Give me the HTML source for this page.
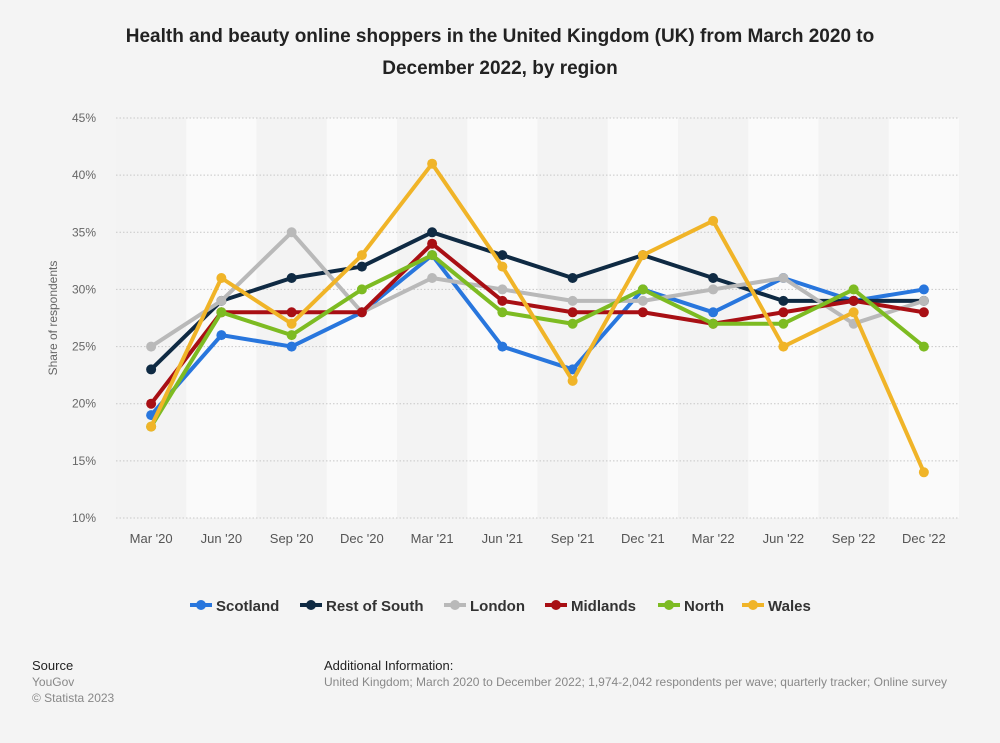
<!DOCTYPE html>
<html><head><meta charset="utf-8"><style>
body{margin:0;background:#f4f4f4;font-family:"Liberation Sans",Arial,sans-serif;}
svg{display:block}
</style></head><body>
<svg id="chart" width="1000" height="743">
<rect width="1000" height="743" fill="#f4f4f4"/>
<text x="500" y="42" text-anchor="middle" font-size="19" font-weight="bold" fill="#222">Health and beauty online shoppers in the United Kingdom (UK) from March 2020 to</text>
<text x="500" y="74" text-anchor="middle" font-size="19" font-weight="bold" fill="#222">December 2022, by region</text>
<g id="bands"></g><g id="grid"></g><g id="series"></g><g id="axes"></g><g id="legend"></g>
<text transform="translate(57,318) rotate(-90)" text-anchor="middle" font-size="12" fill="#666">Share of respondents</text>
<text x="32" y="670" font-size="13" fill="#222">Source</text>
<text x="32" y="686" font-size="12" fill="#888">YouGov</text>
<text x="32" y="702" font-size="12" fill="#888">© Statista 2023</text>
<text x="324" y="670" font-size="13" fill="#222">Additional Information:</text>
<text x="324" y="686" font-size="12" fill="#888">United Kingdom; March 2020 to December 2022; 1,974-2,042 respondents per wave; quarterly tracker; Online survey</text>
</svg>
<script>
const categories=["Mar '20","Jun '20","Sep '20","Dec '20","Mar '21","Jun '21","Sep '21","Dec '21","Mar '22","Jun '22","Sep '22","Dec '22"];
const yTicks=[10,15,20,25,30,35,40,45];
const seriesNames=["Scotland","Rest of South","London","Midlands","North","Wales"];
const seriesColors=["#2876dd","#0f2a43","#b9b9b9","#a80f14","#7dbb22","#f0b428"];
const scotland=[19,26,25,28,33,25,23,30,28,31,29,30];
const restOfSouth=[23,29,31,32,35,33,31,33,31,29,29,29];
const london=[25,29,35,28,31,30,29,29,30,31,27,29];
const midlands=[20,28,28,28,34,29,28,28,27,28,29,28];
const north=[18,28,26,30,33,28,27,30,27,27,30,25];
const wales=[18,31,27,33,41,32,22,33,36,25,28,14];
const seriesValues=[scotland,restOfSouth,london,midlands,north,wales];

const NS="http://www.w3.org/2000/svg";
const L=116,R=959,T=118,B=518;
const bw=(R-L)/categories.length;
const x=i=>L+bw*(i+0.5);
const y=v=>B-(v-10)/35*(B-T);
function mk(tag,attrs,parent){const e=document.createElementNS(NS,tag);for(const k in attrs)e.setAttribute(k,attrs[k]);document.getElementById(parent).appendChild(e);return e;}

categories.forEach((c,i)=>{
  const r=mk('rect',{x:L+bw*i,y:T,width:bw,height:B-T,fill:i%2?'#fafafa':'#f3f3f3'},'bands');
  
  
  const t=mk('text',{x:x(i),y:543,'text-anchor':'middle','font-size':13,fill:'#555'},'axes');
  t.textContent=c;
  
  
});
yTicks.forEach(v=>{
  const l=mk('line',{x1:L,x2:R,y1:y(v),y2:y(v),stroke:'#c8c8c8','stroke-dasharray':'1.5,2'},'grid');
  
  
  const t=mk('text',{x:96,y:y(v)+4,'text-anchor':'end','font-size':12,fill:'#666'},'axes');
  t.textContent=v+'%';
  
  
});
seriesValues.forEach((vals,s)=>{
  const g=mk('g',{},'series');
  
  
  const p=document.createElementNS(NS,'polyline');
  p.setAttribute('points',vals.map((v,i)=>x(i)+','+y(v)).join(' '));
  p.setAttribute('fill','none');p.setAttribute('stroke',seriesColors[s]);p.setAttribute('stroke-width',4);p.setAttribute('stroke-linejoin','round');
  
  
  g.appendChild(p);
  vals.forEach((v,i)=>{
    const c=document.createElementNS(NS,'circle');
    c.setAttribute('cx',x(i));c.setAttribute('cy',y(v));c.setAttribute('r',5);c.setAttribute('fill',seriesColors[s]);
    
    
    g.appendChild(c);
  });
});
const legX=[190,300,444,545,658,742];
seriesNames.forEach((n,s)=>{
  const g=mk('g',{},'legend');
  
  
  const ln=document.createElementNS(NS,'line');
  ln.setAttribute('x1',legX[s]);ln.setAttribute('x2',legX[s]+22);ln.setAttribute('y1',605);ln.setAttribute('y2',605);
  ln.setAttribute('stroke',seriesColors[s]);ln.setAttribute('stroke-width',4);
  g.appendChild(ln);
  const c=document.createElementNS(NS,'circle');
  c.setAttribute('cx',legX[s]+11);c.setAttribute('cy',605);c.setAttribute('r',5);c.setAttribute('fill',seriesColors[s]);
  g.appendChild(c);
  const t=document.createElementNS(NS,'text');
  t.setAttribute('x',legX[s]+26);t.setAttribute('y',611);t.setAttribute('font-size',15);t.setAttribute('font-weight','bold');t.setAttribute('fill','#333');
  t.textContent=n;
  g.appendChild(t);
});
</script>
</body></html>
